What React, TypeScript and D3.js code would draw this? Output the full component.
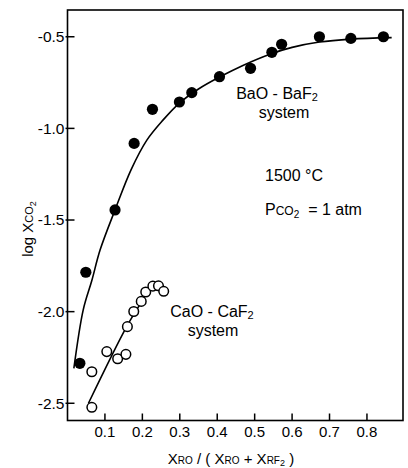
import React from 'react';
import * as d3 from 'd3';

// BaO - BaF2 system (filled dots)
const baoX = [0.033, 0.049, 0.127, 0.178, 0.227, 0.299, 0.332, 0.406, 0.489, 0.546, 0.572, 0.673, 0.757, 0.844];
const baoY = [-2.282, -1.785, -1.445, -1.082, -0.896, -0.856, -0.805, -0.718, -0.672, -0.585, -0.541, -0.5, -0.509, -0.5];

// fitted curve through the BaO points
const baoFitX = [0.017, 0.042, 0.065, 0.087, 0.127, 0.17, 0.212, 0.255, 0.299, 0.35, 0.406, 0.47, 0.541, 0.6, 0.673, 0.757, 0.866];
const baoFitY = [-2.31, -1.99, -1.83, -1.664, -1.445, -1.225, -1.064, -0.955, -0.862, -0.785, -0.72, -0.655, -0.595, -0.558, -0.529, -0.513, -0.505];

// CaO - CaF2 system (open circles)
const caoX = [0.065, 0.065, 0.105, 0.134, 0.156, 0.16, 0.177, 0.197, 0.209, 0.228, 0.243, 0.257];
const caoY = [-2.522, -2.328, -2.218, -2.257, -2.233, -2.082, -1.999, -1.944, -1.893, -1.861, -1.859, -1.889];

const caoFitX = [0.056, 0.158, 0.198, 0.22, 0.239];
const caoFitY = [-2.5, -2.082, -1.946, -1.871, -1.855];

const xTicks = [0.1, 0.2, 0.3, 0.4, 0.5, 0.6, 0.7, 0.8];
const xTickLabels = ['0.1', '0.2', '0.3', '0.4', '0.5', '0.6', '0.7', '0.8'];
const yTicks = [-2.5, -2.0, -1.5, -1.0, -0.5];
const yTickLabels = ['-2.5', '-2.0', '-1.5', '-1.0', '-0.5'];

const W = 408;
const H = 468;
const font = '"Liberation Sans", Arial, sans-serif';

export default function App() {
  const x = d3.scaleLinear().domain([0, 0.8963]).range([67.5, 403]);
  const y = d3.scaleLinear().domain([-2.594, -0.354]).range([420.5, 10]);

  const lineGen = d3
    .line<[number, number]>()
    .x((d) => x(d[0]))
    .y((d) => y(d[1]))
    .curve(d3.curveCatmullRom.alpha(0.5));

  const baoFit = lineGen(baoFitX.map((v, i) => [v, baoFitY[i]] as [number, number]));
  const caoFit = lineGen(caoFitX.map((v, i) => [v, caoFitY[i]] as [number, number]));

  const [x0, x1] = x.range();
  const [y0, y1] = y.range();

  return (
    <div style={{ position: 'fixed', left: 0, top: 0 }}>
      <svg width={W} height={H} viewBox={`0 0 ${W} ${H}`} style={{ display: 'block', background: '#fff' }} fontFamily={font}>
        {/* frame */}
        <rect x={x0} y={y1} width={x1 - x0} height={y0 - y1} fill="none" stroke="#000" strokeWidth={1.6} />

        {/* x ticks (inward) */}
        {xTicks.map((t, i) => (
          <g key={'xt' + t}>
            <line x1={x(t)} x2={x(t)} y1={y0} y2={y0 - 7} stroke="#000" strokeWidth={1.5} />
            <text x={x(t)} y={436.5} textAnchor="middle" fontSize={15} fill="#000">
              {xTickLabels[i]}
            </text>
          </g>
        ))}

        {/* y ticks (inward) */}
        {yTicks.map((t, i) => (
          <g key={'yt' + t}>
            <line x1={x0 - 2} x2={x0 + 7} y1={y(t)} y2={y(t)} stroke="#000" strokeWidth={1.5} />
            <text x={x0 - 3} y={y(t)} dy="0.35em" textAnchor="end" fontSize={15.5} fill="#000">
              {yTickLabels[i]}
            </text>
          </g>
        ))}

        {/* fitted curves */}
        <path d={baoFit || ''} fill="none" stroke="#000" strokeWidth={1.6} />
        <path d={caoFit || ''} fill="none" stroke="#000" strokeWidth={1.6} />

        {/* BaO points */}
        {baoX.map((v, i) => (
          <circle key={'b' + i} cx={x(v)} cy={y(baoY[i])} r={5.6} fill="#000" />
        ))}

        {/* CaO points */}
        {caoX.map((v, i) => (
          <circle key={'c' + i} cx={x(v)} cy={y(caoY[i])} r={4.8} fill="#fff" stroke="#000" strokeWidth={1.5} />
        ))}

        {/* annotations */}
        <text x={277} y={99} textAnchor="middle" fontSize={16} fill="#000">
          BaO - BaF<tspan fontSize={11} dy={2}>2</tspan>
        </text>
        <text x={284} y={118} textAnchor="middle" fontSize={16} fill="#000">
          system
        </text>

        <text x={265} y={180.5} fontSize={16} fill="#000">
          1500 °C
        </text>
        <text x={265} y={215} fontSize={16} fill="#000" xmlSpace="preserve">
          P<tspan fontSize={12}>CO</tspan>
          <tspan fontSize={10} dy={3}>2</tspan>
          <tspan dy={-3}>{'\u00a0\u00a0= 1 atm'}</tspan>
        </text>

        <text x={212} y={316.5} textAnchor="middle" fontSize={16} fill="#000">
          CaO - CaF<tspan fontSize={11} dy={2}>2</tspan>
        </text>
        <text x={213} y={336} textAnchor="middle" fontSize={16} fill="#000">
          system
        </text>

        {/* y axis label */}
        <text transform="translate(33,229) rotate(-90)" textAnchor="middle" fontSize={15} fill="#000">
          log X<tspan fontSize={11}>CO</tspan>
          <tspan fontSize={9} dy={3}>2</tspan>
        </text>

        {/* x axis label */}
        <text x={231} y={464} textAnchor="middle" fontSize={15} fill="#000">
          X<tspan fontSize={10}>RO</tspan>
          <tspan>{' / ( X'}</tspan>
          <tspan fontSize={10}>RO</tspan>
          <tspan>{' + X'}</tspan>
          <tspan fontSize={10}>RF</tspan>
          <tspan fontSize={9} dy={2}>2</tspan>
          <tspan dy={-2}>{' )'}</tspan>
        </text>
      </svg>
    </div>
  );
}
